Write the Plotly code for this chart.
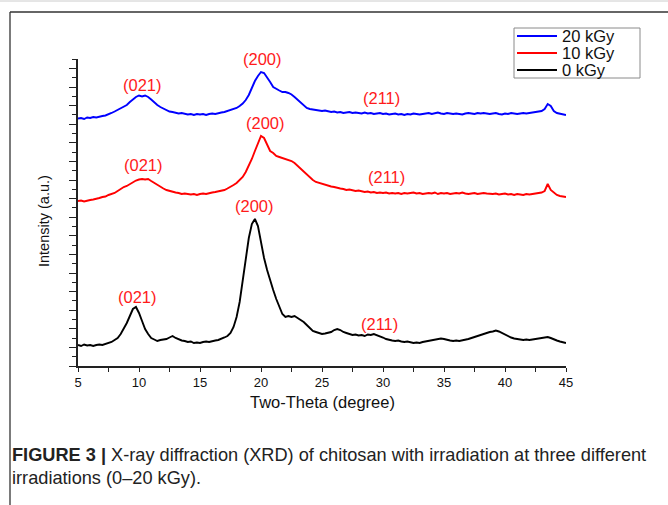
import numpy as np
import plotly.graph_objects as go

# ---------------- data ----------------
# 2-theta sampling grid (degrees), 5..45 in 0.25 deg steps
two_theta = list(np.linspace(5, 45, 161))

# Intensities (a.u., already stacked/offset as in the figure), one row per degree
int_0kGy = [
    21, 20, 21.5, 20.5,      # 5
    21, 20, 21, 21.5,        # 6
    21, 22, 23, 24,          # 7
    26, 28, 32, 37,          # 8
    43, 50, 57, 59,          # 9
    53, 45, 37, 32,          # 10
    28, 26.5, 25, 26,        # 11
    26.5, 27, 28.5, 30,      # 12
    28, 26.5, 25.5, 25,      # 13
    24, 24.5, 23, 23.5,      # 14
    23, 24, 24.5, 24,        # 15
    25, 25.5, 26, 27,        # 16
    28.5, 30, 33, 39,        # 17
    49, 64, 85, 108,         # 18
    128, 142, 147, 140,      # 19
    123, 108, 96, 85,        # 20
    76, 67, 59, 52,          # 21
    49, 50, 49, 50,          # 22
    48, 46, 44, 41,          # 23
    38, 35, 34, 33,          # 24
    32, 32.5, 33, 34,        # 25
    36, 37, 36, 34,          # 26
    33, 32, 31, 31.5,        # 27
    30.5, 31, 30, 31.5,      # 28
    31, 32, 31, 30,          # 29
    28.5, 27, 26, 25.5,      # 30
    25, 25.5, 24.5, 24,      # 31
    24.5, 23.5, 23, 23.5,    # 32
    23, 24, 24.5, 25,        # 33
    25.5, 26, 27, 27.5,      # 34
    27, 26, 25.5, 25,        # 35
    25.5, 25, 25.5, 26,      # 36
    27, 28, 29, 30.5,        # 37
    31.5, 32, 33, 34,        # 38
    34.5, 35.5, 34.5, 33,    # 39
    31, 29.5, 28.5, 27.5,    # 40
    27, 26.5, 26, 26.5,      # 41
    26, 26.5, 27, 27.5,      # 42
    28, 28.5, 29, 28,        # 43
    26.5, 25.5, 24.5, 23.5,  # 44
    23,                      # 45
]

int_10kGy = [
    165, 165.5, 164.5, 165.5,    # 5
    166, 166.5, 167, 168,        # 6
    169, 169.5, 171, 172,        # 7
    173, 175, 177, 179,          # 8
    180, 182, 184, 185.5,        # 9
    186.5, 187, 186.5, 187,      # 10
    185, 183, 181, 179,          # 11
    177.5, 176, 175, 174,        # 12
    173.5, 173, 172, 172.5,      # 13
    172, 171.5, 172, 171,        # 14
    172, 172.5, 172, 173,        # 15
    173.5, 174, 174.5, 175.5,    # 16
    176, 177.5, 179, 181,        # 17
    183, 186, 189, 194,          # 18
    200, 207, 215, 222,          # 19
    230, 228, 221, 215,          # 20
    213, 210, 209, 208,          # 21
    207.5, 206, 205, 203,        # 22
    200, 197, 194, 191,          # 23
    188, 186, 184, 183,          # 24
    182, 181, 180.5, 179.5,      # 25
    179, 178, 177.5, 177,        # 26
    176, 176.5, 175.5, 175,      # 27
    175.5, 174.5, 174, 174.5,    # 28
    173.5, 174, 173, 173.5,      # 29
    173, 173.5, 172.5, 173,      # 30
    172.5, 173, 172, 173,        # 31
    172.5, 173, 173.5, 172.5,    # 32
    173, 172, 172.5, 173,        # 33
    172.5, 173.5, 172, 173,      # 34
    172.5, 173, 172, 172.5,      # 35
    173, 172.5, 173.5, 172.5,    # 36
    172, 172.5, 173, 172,        # 37
    172.5, 173, 172.5, 172,      # 38
    172, 172.5, 171.5, 172,      # 39
    172.5, 171.5, 172, 171,      # 40
    172, 171.5, 171, 172,        # 41
    171.5, 172, 172.5, 173,      # 42
    173.5, 175, 182, 176,        # 43
    173, 171, 170, 169.5,        # 44
    169,                         # 45
]

int_20kGy = [
    247.5, 248, 247, 248.5,      # 5
    248, 249, 248.5, 249.5,      # 6
    250, 250.5, 251.5, 253,      # 7
    254.5, 256, 257.5, 259,      # 8
    261, 264, 267, 269,          # 9
    270.5, 269.5, 270.5, 269,    # 10
    266.5, 263.5, 261, 259,      # 11
    257.5, 256, 254.5, 254,      # 12
    253, 252.5, 253, 252,        # 13
    251.5, 252, 251, 252,        # 14
    251.5, 252, 251, 252,        # 15
    252.5, 252, 253, 253.5,      # 16
    254, 255, 255.5, 256.5,      # 17
    258, 260, 262.5, 266,        # 18
    271, 278, 285, 290,          # 19
    294, 293, 289, 284,          # 20
    279, 277, 275.5, 274,        # 21
    274, 273, 271.5, 269,        # 22
    266, 263, 260, 258,          # 23
    257, 256.5, 256, 255.5,      # 24
    255, 255.5, 254.5, 254,      # 25
    254.5, 253.5, 254, 253,      # 26
    253.5, 254, 253, 253.5,      # 27
    253, 252.5, 253.5, 252.5,    # 28
    253, 252, 252.5, 253,        # 29
    252, 252.5, 251.5, 252,      # 30
    252.5, 251.5, 252, 251,      # 31
    252, 251.5, 252.5, 252,      # 32
    251.5, 252, 252.5, 253,      # 33
    252, 252.5, 253.5, 252.5,    # 34
    252, 253, 252.5, 252,        # 35
    252.5, 252, 251.5, 252.5,    # 36
    253, 252.5, 252, 253,        # 37
    252.5, 253, 252.5, 252,      # 38
    252.5, 253, 252, 251.5,      # 39
    252.5, 252, 253, 252.5,      # 40
    252, 252.5, 253, 252.5,      # 41
    253, 253.5, 254, 254.5,      # 42
    255, 257, 262, 260,          # 43
    255, 253, 252.5, 251.5,      # 44
    251,                         # 45
]

series_names = ["20 kGy", "10 kGy", "0 kGy"]
series_colors = ["#0000ff", "#ff0000", "#000000"]
series_values = [int_20kGy, int_10kGy, int_0kGy]

x_tick_vals = [5, 10, 15, 20, 25, 30, 35, 40, 45]
x_tick_text = ["5", "10", "15", "20", "25", "30", "35", "40", "45"]

# Miller-index peak labels: (text, 2theta, intensity)
peak_labels = [
    ("(021)", 10.25, 281), ("(200)", 20.15, 307), ("(211)", 29.85, 268),
    ("(021)", 10.35, 201), ("(200)", 20.35, 243), ("(211)", 30.25, 189),
    ("(021)", 9.85, 69), ("(200)", 19.5, 160), ("(211)", 29.75, 42),
]

x_title = "Two-Theta (degree)"
y_title = "Intensity (a.u.)"
caption_1 = "<b>FIGURE 3 |</b> X-ray diffraction (XRD) of chitosan with irradiation at three different"
caption_2 = "irradiations (0–20 kGy)."

assert all(len(v) == len(two_theta) for v in series_values)

# ---------------- figure ----------------
W, H = 668, 505
L, R, T, B = 78, 102, 59, 139
pw, ph = W - L - R, H - T - B


def px(xp):
    return (xp - L) / pw


def py(yp):
    return (H - B - yp) / ph


FONT = "Liberation Sans, Arial, sans-serif"

fig = go.Figure()
for name, color, vals in zip(series_names, series_colors, series_values):
    fig.add_trace(go.Scatter(
        x=two_theta, y=vals, mode="lines", name=name,
        line=dict(color=color, width=1.9), showlegend=False,
    ))

annotations = []
for text, xv, yv in peak_labels:
    annotations.append(dict(
        x=xv, y=yv, xref="x", yref="y", text=text, showarrow=False,
        font=dict(family=FONT, size=16.5, color="#ff1a1a"),
        xanchor="center", yanchor="middle",
    ))

annotations.append(dict(
    x=px(322), y=py(402), xref="paper", yref="paper", text=x_title,
    showarrow=False, font=dict(family=FONT, size=16.5, color="#111"),
    xanchor="center", yanchor="middle",
))
annotations.append(dict(
    x=px(44), y=py(221), xref="paper", yref="paper", text=y_title,
    showarrow=False, textangle=-90, font=dict(family=FONT, size=14.5, color="#111"),
    xanchor="center", yanchor="middle",
))
annotations.append(dict(
    x=px(10), y=py(455), xref="paper", yref="paper", text=caption_1,
    showarrow=False, font=dict(family=FONT, size=18.2, color="#222"),
    xanchor="left", yanchor="middle",
))
annotations.append(dict(
    x=px(10), y=py(478), xref="paper", yref="paper", text=caption_2,
    showarrow=False, font=dict(family=FONT, size=18.2, color="#222"),
    xanchor="left", yanchor="middle",
))

shapes = [
    # panel frame (top and left edges)
    dict(type="line", xref="paper", yref="paper", x0=px(10), x1=px(668),
         y0=py(12), y1=py(12), line=dict(color="#333", width=1.3)),
    dict(type="line", xref="paper", yref="paper", x0=px(10), x1=px(10),
         y0=py(12), y1=py(505), line=dict(color="#333", width=1.3)),
    dict(type="line", xref="paper", yref="paper", x0=px(0), x1=px(668),
         y0=py(1), y1=py(1), line=dict(color="#cccccc", width=1)),
]

# legend box (drawn as in the original, compact spacing)
leg_left, leg_top, leg_right, leg_bottom = 514, 28, 640, 78
leg_rows = [36, 53, 70]
shapes.append(dict(type="rect", xref="paper", yref="paper",
                   x0=px(leg_left), x1=px(leg_right), y0=py(leg_top), y1=py(leg_bottom),
                   line=dict(color="#8a8a8a", width=1), fillcolor="white", layer="above"))
for name, color, ry in zip(series_names, series_colors, leg_rows):
    shapes.append(dict(type="line", xref="paper", yref="paper",
                       x0=px(517), x1=px(557), y0=py(ry), y1=py(ry),
                       line=dict(color=color, width=1.9), layer="above"))
    annotations.append(dict(
        x=px(560), y=py(ry), xref="paper", yref="paper", text=name,
        showarrow=False, font=dict(family=FONT, size=16.5, color="#111"),
        xanchor="left", yanchor="middle",
    ))

fig.update_layout(
    width=W, height=H,
    margin=dict(l=L, r=R, t=T, b=B, pad=0),
    paper_bgcolor="white", plot_bgcolor="white",
    font=dict(family=FONT, color="#111"),
    showlegend=False,
    annotations=annotations,
    shapes=shapes,
    xaxis=dict(
        range=[5, 45], showgrid=False, zeroline=False,
        showline=True, linecolor="#222", linewidth=1.5,
        ticks="outside", ticklen=4, tickwidth=1.3, tickcolor="#222",
        tickvals=x_tick_vals, ticktext=x_tick_text,
        tickfont=dict(family=FONT, size=13, color="#111"),
        minor=dict(dtick=2.5, tick0=5, ticks="outside", ticklen=4,
                   tickwidth=1.3, tickcolor="#222", showgrid=False),
    ),
    yaxis=dict(
        range=[0, 307], showgrid=False, zeroline=False,
        showline=True, linecolor="#222", linewidth=1.5,
        ticks="outside", ticklen=7, tickwidth=1.3, tickcolor="#222",
        tick0=0, dtick=18.6, showticklabels=False,
        minor=dict(dtick=9.3, tick0=0, ticks="outside", ticklen=4,
                   tickwidth=1.3, tickcolor="#222", showgrid=False),
    ),
)

post_js = (
    "document.body.style.margin='0px';"
    "document.body.style.padding='0px';"
    "document.body.style.overflow='hidden';"
    "var gd=document.getElementById('{plot_id}');"
    "gd.style.position='absolute';gd.style.left='0px';gd.style.top='0px';"
)

fig.write_html("out.html", post_script=post_js, config={"displayModeBar": False})
